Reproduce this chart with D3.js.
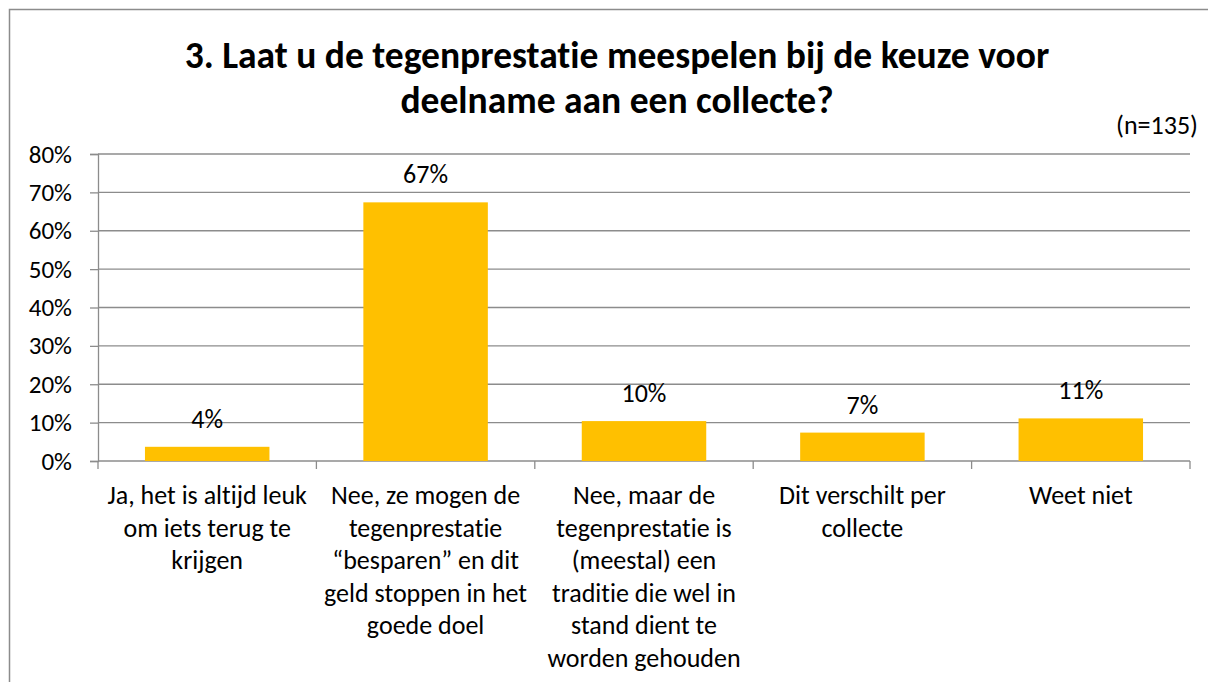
<!DOCTYPE html>
<html>
<head>
<meta charset="utf-8">
<script src="https://cdn.jsdelivr.net/npm/d3@7"></script>
<style>
  body { margin: 0; background: #fff; }
  svg { display: block; }
  text { font-variant-ligatures: none; }
</style>
</head>
<body>
<svg></svg>
<script>
var svgWidth = 1208;
var svgHeight = 682;
var margin = {top: 154, right: 18, bottom: 221, left: 98};
var width = svgWidth - margin.left - margin.right;
var height = svgHeight - margin.top - margin.bottom;
var font = "Carlito, Calibri, 'Open Sans', sans-serif";

// ----- Data ----- //
var categories = [
  ["Ja, het is altijd leuk", "om iets terug te", "krijgen"],
  ["Nee, ze mogen de", "tegenprestatie", "\u201cbesparen\u201d en dit", "geld stoppen in het", "goede doel"],
  ["Nee, maar de", "tegenprestatie is", "(meestal) een", "traditie die wel in", "stand dient te", "worden gehouden"],
  ["Dit verschilt per", "collecte"],
  ["Weet niet"]
];
var values = [0.037, 0.674, 0.104, 0.074, 0.111];
var valueLabels = ["4%", "67%", "10%", "7%", "11%"];
var yTicks = [0, 0.1, 0.2, 0.3, 0.4, 0.5, 0.6, 0.7, 0.8];
var titleLines = ["3. Laat u de tegenprestatie meespelen bij de keuze voor", "deelname aan een collecte?"];
var note = "(n=135)";

var svg = d3.select("svg")
  .attr('width', svgWidth)
  .attr('height', svgHeight);

// chart border
svg.append('rect')
  .attr('x', 9.5).attr('y', 9.5)
  .attr('width', svgWidth + 10).attr('height', svgHeight + 10)
  .attr('fill', 'none')
  .attr('stroke', '#8c8c8c')
  .attr('stroke-width', 1.5);

// ----- Title ----- //
svg.append('text')
  .attr('x', 617).attr('y', 68)
  .attr('text-anchor', 'middle')
  .style('font-family', font)
  .style('font-weight', 'bold')
  .style('font-size', '37.5px')
  .selectAll('tspan')
  .data(titleLines)
  .enter()
  .append('tspan')
  .attr('x', 617)
  .attr('dy', function(d, i) { return i ? 45 : 0; })
  .text(function(d) { return d; });

svg.append('text')
  .attr('x', 1198).attr('y', 134)
  .attr('text-anchor', 'end')
  .style('font-family', font)
  .style('font-size', '26px')
  .text(note);

var g = svg.append('g')
  .attr('transform', translate(margin.left, margin.top));

var x = d3.scaleBand()
  .domain(d3.range(categories.length))
  .range([0, width])
  .paddingInner(0.43)
  .paddingOuter(0.215);

var y = d3.scaleLinear()
  .domain([0, 0.8])
  .range([height, 0]);

// gridlines
g.selectAll('.grid')
  .data(yTicks.slice(1))
  .enter()
  .append('line')
  .attr('x1', 0).attr('x2', width)
  .attr('y1', function(d) { return y(d); })
  .attr('y2', function(d) { return y(d); })
  .attr('stroke', '#8c8c8c')
  .attr('stroke-width', 1.3);

// y axis
var yAxis = g.append('g')
  .call(d3.axisLeft(y).tickValues(yTicks).tickSize(8).tickPadding(18).tickFormat(d3.format('.0%')));
yAxis.selectAll('line, path').attr('stroke', '#8c8c8c').attr('stroke-width', 1.3);
yAxis.selectAll('text')
  .style('font-family', font).style('font-size', '25px').attr('fill', '#000');

// x axis with ticks at category boundaries
var bounds = d3.range(categories.length + 1).map(function(i) { return i * width / categories.length; });
var xa = g.append('g').attr('transform', translate(0, height));
xa.append('line').attr('x1', 0).attr('x2', width)
  .attr('stroke', '#8c8c8c').attr('stroke-width', 1.3);
xa.selectAll('.tick')
  .data(bounds)
  .enter()
  .append('line')
  .attr('x1', function(d) { return d; })
  .attr('x2', function(d) { return d; })
  .attr('y1', 0).attr('y2', 8)
  .attr('stroke', '#8c8c8c').attr('stroke-width', 1.3);

// bars
g.selectAll('.bar')
  .data(values)
  .enter()
  .append('rect')
  .attr('x', function(d, i) { return x(i); })
  .attr('y', function(d) { return y(d); })
  .attr('width', x.bandwidth())
  .attr('height', function(d) { return height - y(d); })
  .attr('fill', '#FFC000');

// value labels
g.selectAll('.val')
  .data(values)
  .enter()
  .append('text')
  .attr('x', function(d, i) { return x(i) + x.bandwidth() / 2; })
  .attr('y', function(d) { return y(d) - 19; })
  .attr('text-anchor', 'middle')
  .style('font-family', font)
  .style('font-size', '26px')
  .text(function(d, i) { return valueLabels[i]; });

// category labels
g.selectAll('.cat')
  .data(categories)
  .enter()
  .append('text')
  .attr('text-anchor', 'middle')
  .attr('y', height + 43)
  .style('font-family', font)
  .style('font-size', '26px')
  .each(function(lines, i) {
    var cx = x(i) + x.bandwidth() / 2;
    d3.select(this).selectAll('tspan')
      .data(lines)
      .enter()
      .append('tspan')
      .attr('x', cx)
      .attr('dy', function(d, j) { return j ? 32.6 : 0; })
      .text(function(d) { return d; });
  });

function translate(x, y) {
  return 'translate(' + x + ',' + y + ')';
}
</script>
</body>
</html>
